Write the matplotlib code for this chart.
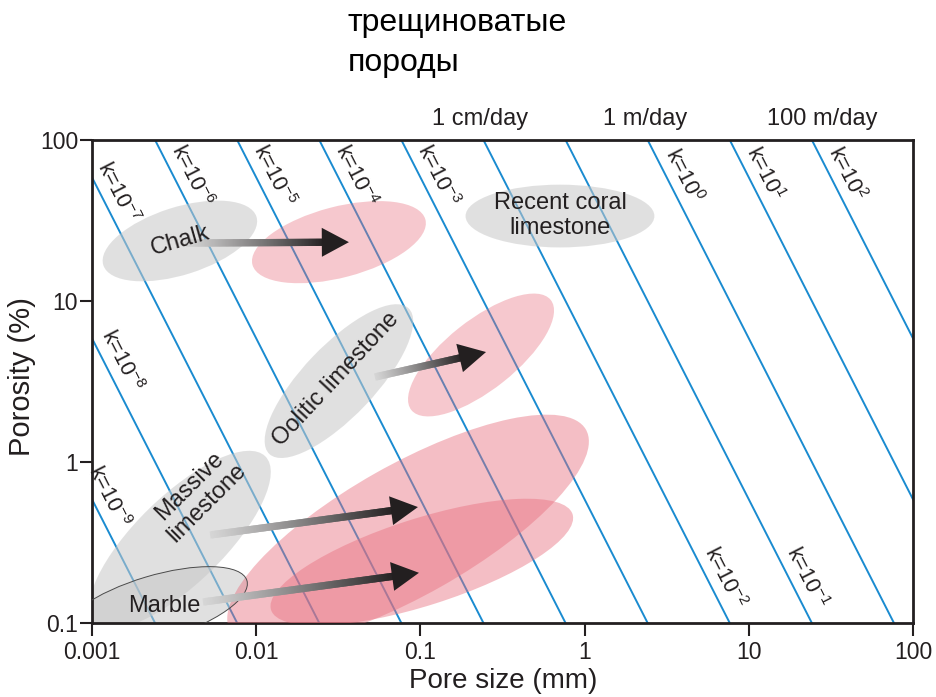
import numpy as np
import matplotlib
matplotlib.use("Agg")
import matplotlib.pyplot as plt
from matplotlib.patches import Ellipse, Polygon
from matplotlib.collections import LineCollection
from matplotlib.transforms import Affine2D

plt.rcParams["font.family"] = ["Liberation Sans", "DejaVu Sans"]
plt.rcParams["mathtext.fontset"] = "custom"
plt.rcParams["mathtext.rm"] = "Liberation Sans"
plt.rcParams["mathtext.it"] = "Liberation Sans:italic"
plt.rcParams["mathtext.bf"] = "Liberation Sans:bold"

INK = "#231f20"
BLUE = "#1a8bd0"
GREY = "#c8c8c8"
PINK = "#e8707f"

# ---- axes -------------------------------------------------------------
x_ticks = [0.001, 0.01, 0.1, 1, 10, 100]
x_ticklabels = ["0.001", "0.01", "0.1", "1", "10", "100"]
y_ticks = [0.1, 1, 10, 100]
y_ticklabels = ["0.1", "1", "10", "100"]

# ---- permeability isolines: log10(phi) = n - 2*log10(d) + k_shift -------
k_exponents = [-9, -8, -7, -6, -5, -4, -3, -2, -1, 0, 1, 2]
k_shift = 2.768

# label of each isoline: exponent and porosity (%) at which it is written
k_label_exp = [-7, -6, -5, -4, -3, 0, 1, 2, -8, -9, -2, -1]
k_label_phi = [47, 60, 60, 60, 60, 60, 62, 62, 4.3, 0.61, 0.193, 0.193]

# flow-rate labels above the frame
flow_labels = ["1 cm/day", "1 m/day", "100 m/day"]
flow_label_d = [0.231, 2.33, 27.9]

# ---- rock fields (centre d [mm], centre phi [%], width/height in decades, angle)
field_names = ["Chalk", "Chalk (diagenesis)", "Recent coral", "Oolitic",
               "Oolitic (diagenesis)", "Massive", "Marble",
               "Massive (diagenesis)", "Marble (diagenesis)"]
field_d = [0.00343, 0.0319, 0.708, 0.0319, 0.234, 0.00343, 0.00242, 0.0841, 0.102]
field_phi = [23.6, 23.2, 33.7, 3.18, 4.62, 0.328, 0.124, 0.378, 0.239]
field_w = [0.98, 1.09, 1.15, 1.24, 1.09, 1.47, 1.17, 2.50, 1.93]
field_h = [0.42, 0.44, 0.39, 0.44, 0.43, 0.54, 0.40, 0.81, 0.54]
field_angle = [18, 15, 0, 47, 39, 45, 17, 30, 18]
field_kind = ["grey", "pink_light", "grey", "grey", "pink_light", "grey",
              "grey_outline", "pink", "pink"]

# ---- region labels ----------------------------------------------------
region_text = ["Chalk", "Recent coral\nlimestone", "Oolitic limestone",
               "Massive\nlimestone", "Marble"]
region_d = [0.00343, 0.708, 0.0305, 0.00445, 0.00275]
region_phi = [23.6, 34.0, 3.25, 0.63, 0.128]
region_rot = [16, 0, 47, 45, 0]

# ---- arrows: tail -> tip -----------------------------------------------
arrow_tail_d = [0.00368, 0.0528, 0.00524, 0.00474]
arrow_tail_phi = [22.9, 3.37, 0.352, 0.135]
arrow_tip_d = [0.0367, 0.251, 0.0966, 0.098]
arrow_tip_phi = [23.2, 4.82, 0.525, 0.205]

# ---- figure -------------------------------------------------------------
W, H = 937, 697
fig = plt.figure(figsize=(W / 100, H / 100), dpi=100)
ax = fig.add_axes([92 / W, 1 - 623 / H, 821 / W, 483 / H])
ax.set_xscale("log")
ax.set_yscale("log")
xmin, xmax, ymin, ymax = 0.001, 100, 0.1, 100
ax.set_xlim(xmin, xmax)
ax.set_ylim(ymin, ymax)

# coordinates in decades (log10 d, log10 phi) mapped onto the axes
lx0, lx1 = np.log10(xmin), np.log10(xmax)
ly0, ly1 = np.log10(ymin), np.log10(ymax)
logT = (Affine2D().translate(-lx0, -ly0).scale(1 / (lx1 - lx0), 1 / (ly1 - ly0))
        + ax.transAxes)

# isolines
d_grid = np.logspace(-4, 3, 50)
for n in k_exponents:
    phi = 10 ** (n - 2 * np.log10(d_grid) + k_shift)
    ax.plot(d_grid, phi, color=BLUE, lw=1.4, zorder=1, solid_capstyle="butt")

# isoline labels
p1 = ax.transData.transform((0.01, 10 ** (-6 + 4 + k_shift)))
p2 = ax.transData.transform((0.1, 10 ** (-6 + 2 + k_shift)))
line_angle = np.degrees(np.arctan2(p2[1] - p1[1], p2[0] - p1[0]))
for n, phi in zip(k_label_exp, k_label_phi):
    d_line = 10 ** ((n + k_shift - np.log10(phi)) / 2)
    ax.annotate(r"k=10$^{%d}$" % n, xy=(d_line, phi), xytext=(13, 0),
                textcoords="offset points", rotation=line_angle,
                rotation_mode="anchor", ha="center", va="center",
                fontsize=15.5, color=INK, zorder=6, annotation_clip=False)

# rock fields
styles = {
    "grey": dict(facecolor=GREY, alpha=0.55, edgecolor="none", zorder=2),
    "grey_outline": dict(facecolor=GREY, alpha=0.55, edgecolor="none", zorder=2),
    "pink_light": dict(facecolor=PINK, alpha=0.38, edgecolor="none", zorder=3),
    "pink": dict(facecolor=PINK, alpha=0.45, edgecolor="none", zorder=3),
}
for d, phi, w, h, ang, kind in zip(field_d, field_phi, field_w, field_h,
                                   field_angle, field_kind):
    e = Ellipse((np.log10(d), np.log10(phi)), w, h, angle=ang,
                transform=logT, **styles[kind])
    ax.add_patch(e)
    if kind == "grey_outline":
        ax.add_patch(Ellipse((np.log10(d), np.log10(phi)), w, h, angle=ang,
                             transform=logT, facecolor="none",
                             edgecolor="#4a4a4a", lw=0.7, zorder=3.5))

# arrows with a grey-to-black shaft (opaque, overlapping pieces -> no seams)
head_len, head_half = 0.165, 0.09
ink_rgb = np.array(matplotlib.colors.to_rgb(INK))
light_rgb = np.array([0.84, 0.84, 0.84])
for td, tp, hd, hp in zip(arrow_tail_d, arrow_tail_phi, arrow_tip_d, arrow_tip_phi):
    a = np.array([np.log10(td), np.log10(tp)])
    b = np.array([np.log10(hd), np.log10(hp)])
    u = (b - a) / np.linalg.norm(b - a)
    nrm = np.array([-u[1], u[0]])
    base = b - u * head_len
    m = 120
    s = np.linspace(0, 1, m + 1)
    pts = a + s[:, None] * (base + u * 0.02 - a)
    starts = pts[:-1]
    ends = np.minimum(np.arange(m) + 2, m)
    segs = np.stack([starts, pts[ends]], axis=1)
    t = s[:-1] ** 1.1
    cols = light_rgb * (1 - t[:, None]) + ink_rgb * t[:, None]
    lc = LineCollection(segs, colors=cols, linewidths=5.2, transform=logT,
                        zorder=4, capstyle="butt")
    ax.add_collection(lc)
    head = Polygon([b, base + nrm * head_half, base - nrm * head_half],
                   closed=True, facecolor=INK, edgecolor="none",
                   transform=logT, zorder=4.5)
    ax.add_patch(head)

# region labels
for txt, d, phi, rot in zip(region_text, region_d, region_phi, region_rot):
    ax.text(d, phi, txt, rotation=rot, rotation_mode="anchor", ha="center",
            va="center", fontsize=17, color=INK, zorder=6, linespacing=1.15)

# flow-rate labels
for txt, d in zip(flow_labels, flow_label_d):
    ax.annotate(txt, xy=(d, 1), xycoords=("data", "axes fraction"),
                xytext=(0, 11), textcoords="offset points", ha="center",
                va="baseline", fontsize=17, color=INK, annotation_clip=False)

# frame and ticks
for sp in ax.spines.values():
    sp.set_linewidth(2.0)
    sp.set_color(INK)
ax.set_xticks(x_ticks)
ax.set_xticklabels(x_ticklabels)
ax.set_yticks(y_ticks)
ax.set_yticklabels(y_ticklabels)
ax.minorticks_off()
ax.tick_params(axis="both", direction="out", length=9, width=1.5, color=INK,
               labelsize=16.5, labelcolor=INK)
ax.tick_params(axis="x", pad=4)
ax.tick_params(axis="y", pad=1)

fig.text(503 / W, 1 - 681 / H, "Pore size (mm)", ha="center", va="center",
         fontsize=20, color=INK)
fig.text(22 / W, 1 - 377 / H, "Porosity (%)", ha="center", va="center",
         rotation=90, fontsize=21, color=INK)
fig.text(348 / W, 1 - 8 / H, "трещиноватые\nпороды", ha="left", va="top",
         fontsize=23, color="black", linespacing=1.42)

fig.savefig("out.png", dpi=100)
